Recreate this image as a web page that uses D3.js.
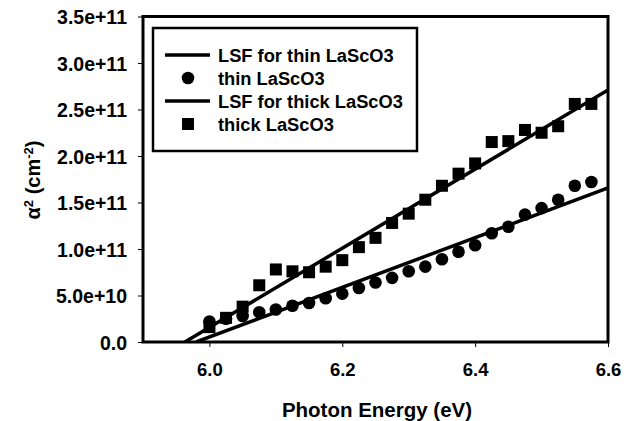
<!DOCTYPE html>
<html>
<head>
<meta charset="utf-8">
<script src="https://cdn.jsdelivr.net/npm/d3@7"></script>
<style>
  body { margin: 0; background: #fff; }
  text { font-family: "Liberation Sans", Arial, sans-serif; font-weight: bold; fill: #000; }
</style>
</head>
<body>
<svg id="chart" width="634" height="421"></svg>
<script>
// photon energy (eV)
var energy = [6.0, 6.025, 6.05, 6.075, 6.1, 6.125, 6.15, 6.175, 6.2, 6.225, 6.25, 6.275,
              6.3, 6.325, 6.35, 6.375, 6.4, 6.425, 6.45, 6.475, 6.5, 6.525, 6.55, 6.575];
// alpha^2 (cm^-2)
var thin = [2.2e10, 2.5e10, 2.8e10, 3.2e10, 3.5e10, 3.9e10, 4.2e10, 4.7e10, 5.2e10, 5.8e10, 6.4e10, 6.9e10,
            7.6e10, 8.1e10, 8.9e10, 9.7e10, 1.04e11, 1.17e11, 1.24e11, 1.37e11, 1.44e11, 1.53e11, 1.68e11, 1.72e11];
var thick = [1.6e10, 2.6e10, 3.8e10, 6.1e10, 7.8e10, 7.6e10, 7.5e10, 8.1e10, 8.8e10, 1.02e11, 1.12e11, 1.28e11,
             1.38e11, 1.53e11, 1.68e11, 1.81e11, 1.92e11, 2.15e11, 2.16e11, 2.28e11, 2.25e11, 2.32e11, 2.56e11, 2.56e11];
// least squares fit lines (end points)
var thinFitX = [5.98, 6.6], thinFitY = [0, 1.656e11];
var thickFitX = [5.963, 6.6], thickFitY = [0, 2.71e11];

var xTicks = [6.0, 6.2, 6.4, 6.6];
var yTicks = [0, 5e10, 1e11, 1.5e11, 2e11, 2.5e11, 3e11, 3.5e11];
var legendLabels = ["LSF for thin LaScO3", "thin LaScO3", "LSF for thick LaScO3", "thick LaScO3"];

var svg = d3.select("#chart");
var margin = {top: 16.5, right: 26, bottom: 79, left: 143},
    width = +svg.attr("width") - margin.left - margin.right,
    height = +svg.attr("height") - margin.top - margin.bottom;

var g = svg.append("g").attr("transform", "translate(" + margin.left + "," + margin.top + ")");

var x = d3.scaleLinear().domain([5.9, 6.6]).range([0, width]);
var y = d3.scaleLinear().domain([0, 3.5e11]).range([height, 0]);

var yFmt = function(d) { return d === 0 ? "0.0" : d3.format(".1e")(d); };

//x axis
var xAxis = g.append("g")
    .attr("transform", "translate(0," + height + ")")
    .call(d3.axisBottom(x).tickValues(xTicks).tickFormat(d3.format(".1f")).tickSize(5).tickPadding(16));
xAxis.select(".domain").remove();
xAxis.selectAll("text").style("font-size", "18.5px");

//y axis
var yAxis = g.append("g")
    .call(d3.axisLeft(y).tickValues(yTicks).tickFormat(yFmt).tickSize(5).tickPadding(11));
yAxis.select(".domain").remove();
yAxis.selectAll("text").style("font-size", "19.5px").attr("dy", "0.36em");

// clip for fit lines
g.append("clipPath").attr("id", "clip")
  .append("rect").attr("width", width).attr("height", height);

var line = d3.line().x(function(d) { return x(d[0]); }).y(function(d) { return y(d[1]); });

//fit lines
[[thinFitX, thinFitY], [thickFitX, thickFitY]].forEach(function(f) {
  g.append("path")
    .datum(d3.zip(f[0], f[1]))
    .attr("d", line)
    .attr("fill", "none")
    .attr("stroke", "#000")
    .attr("stroke-width", 3.5)
    .attr("clip-path", "url(#clip)");
});

//circles
g.selectAll(".thin")
    .data(d3.zip(energy, thin))
    .enter().append("circle")
    .attr("class", "thin")
    .attr("cx", function(d) { return x(d[0]); })
    .attr("cy", function(d) { return y(d[1]); })
    .attr("r", 6.3)
    .attr("fill", "#000");

//squares
var sq = 12;
g.selectAll(".thick")
    .data(d3.zip(energy, thick))
    .enter().append("rect")
    .attr("class", "thick")
    .attr("x", function(d) { return x(d[0]) - sq / 2; })
    .attr("y", function(d) { return y(d[1]) - sq / 2; })
    .attr("width", sq)
    .attr("height", sq)
    .attr("fill", "#000");

//frame
g.append("rect")
    .attr("width", width).attr("height", height)
    .attr("fill", "none").attr("stroke", "#000").attr("stroke-width", 3);

//legend
var lg = g.append("g").attr("transform", "translate(10,11.5)");
lg.append("rect")
    .attr("width", 264).attr("height", 123)
    .attr("fill", "#fff").attr("stroke", "#000").attr("stroke-width", 2.5);
legendLabels.forEach(function(t, i) {
  var cy = 27 + i * 23;
  if (i === 0 || i === 2) {
    lg.append("line").attr("x1", 12).attr("x2", 57).attr("y1", cy).attr("y2", cy)
      .attr("stroke", "#000").attr("stroke-width", 3.5);
  } else if (i === 1) {
    lg.append("circle").attr("cx", 35).attr("cy", cy).attr("r", 6.3).attr("fill", "#000");
  } else {
    lg.append("rect").attr("x", 35 - sq / 2).attr("y", cy - sq / 2).attr("width", sq).attr("height", sq).attr("fill", "#000");
  }
  lg.append("text").attr("x", 65).attr("y", cy).attr("dy", "0.36em")
    .style("font-size", "18.3px").text(t);
});

//axis titles
svg.append("text")
    .attr("x", 377)
    .attr("y", 417)
    .attr("text-anchor", "middle")
    .style("font-size", "20.5px")
    .text("Photon Energy (eV)");

var yl = svg.append("text")
    .attr("transform", "translate(40,180) rotate(-90)")
    .attr("text-anchor", "middle")
    .style("font-size", "20px");
yl.append("tspan").text("α");
yl.append("tspan").attr("baseline-shift", "super").style("font-size", "13px").text("2");
yl.append("tspan").text(" (cm");
yl.append("tspan").attr("baseline-shift", "super").style("font-size", "13px").text("-2");
yl.append("tspan").text(")");
</script>
</body>
</html>
